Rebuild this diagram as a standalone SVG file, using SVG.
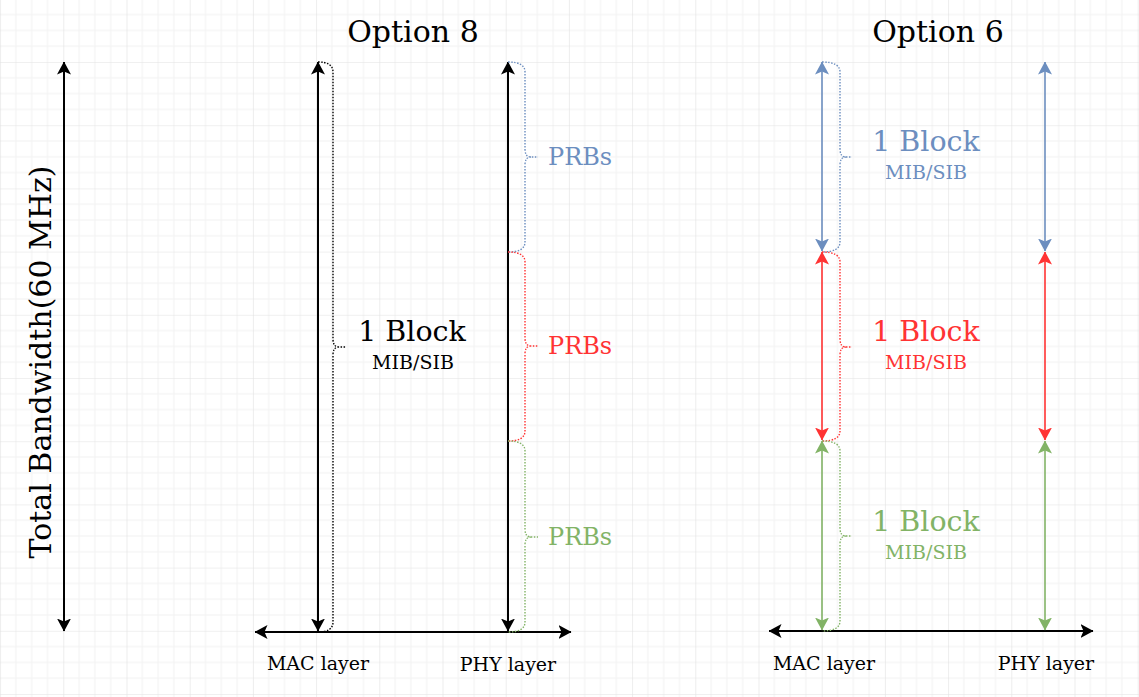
<svg xmlns="http://www.w3.org/2000/svg" width="1139" height="697" viewBox="0 0 1139 697">
<defs>
  <pattern id="grid" x="0.1" y="-1.2" width="63.2" height="63.2" patternUnits="userSpaceOnUse">
    <rect width="63.2" height="63.2" fill="#ffffff"/>
    <path d="M15.8 0V63.2M31.6 0V63.2M47.4 0V63.2M0 15.8H63.2M0 31.6H63.2M0 47.4H63.2" stroke="#f2f2f2" stroke-width="1" fill="none"/>
    <path d="M0 0V63.2M0 0H63.2" stroke="#e2e2e2" stroke-width="1.2" fill="none"/>
  </pattern>
  <marker id="ak" viewBox="0 0 13 14" refX="12.5" refY="7" markerWidth="13" markerHeight="14" markerUnits="userSpaceOnUse" orient="auto-start-reverse">
    <path d="M0 0L13 7L0 14L3 7Z" fill="#000000"/>
  </marker>
  <marker id="ab" viewBox="0 0 13 14" refX="12.5" refY="7" markerWidth="13" markerHeight="14" markerUnits="userSpaceOnUse" orient="auto-start-reverse">
    <path d="M0 0L13 7L0 14L3 7Z" fill="#6c8ebf"/>
  </marker>
  <marker id="ar" viewBox="0 0 13 14" refX="12.5" refY="7" markerWidth="13" markerHeight="14" markerUnits="userSpaceOnUse" orient="auto-start-reverse">
    <path d="M0 0L13 7L0 14L3 7Z" fill="#ff3333"/>
  </marker>
  <marker id="ag" viewBox="0 0 13 14" refX="12.5" refY="7" markerWidth="13" markerHeight="14" markerUnits="userSpaceOnUse" orient="auto-start-reverse">
    <path d="M0 0L13 7L0 14L3 7Z" fill="#82b366"/>
  </marker>
</defs>
<style>
  text { font-family: "DejaVu Serif", "Liberation Serif", serif; }
  .title { font-size: 30px; fill: #000; text-anchor: middle; }
  .big { font-size: 28.5px; text-anchor: middle; }
  .small { font-size: 19px; text-anchor: middle; }
  .prb { font-size: 24px; }
  .axis { font-size: 19px; text-anchor: middle; fill: #000; }
  .kar { stroke: #000; stroke-width: 2; fill: none; marker-start: url(#ak); marker-end: url(#ak); }
  .bar { stroke: #6c8ebf; stroke-width: 1.6; fill: none; marker-start: url(#ab); marker-end: url(#ab); }
  .rar { stroke: #ff3333; stroke-width: 1.6; fill: none; marker-start: url(#ar); marker-end: url(#ar); }
  .gar { stroke: #82b366; stroke-width: 1.6; fill: none; marker-start: url(#ag); marker-end: url(#ag); }
  .brace { fill: none; stroke-width: 1.4; stroke-dasharray: 1.5 1.5; }
  .bk { stroke: #000; }
  .bb { stroke: #6c8ebf; }
  .br { stroke: #ff3333; }
  .bg { stroke: #82b366; }
  .tb { fill: #6c8ebf; }
  .tr { fill: #ff3333; }
  .tg { fill: #82b366; }
  .tk { fill: #000; }
</style>
<rect width="1139" height="697" fill="url(#grid)"/>

<g id="titles">
  <text class="title" x="413" y="42">Option 8</text>
  <text class="title" x="938" y="42">Option 6</text>
</g>

<g id="total-bandwidth">
  <text x="0" y="0" transform="translate(51 362) rotate(-90)" style="font-size:30px;text-anchor:middle;fill:#000">Total Bandwidth(60 MHz)</text>
</g>

<g id="connectors">
  <line class="kar" x1="64" y1="62" x2="64" y2="631"/>
  <line class="kar" x1="318" y1="62" x2="318" y2="631"/>
  <line class="kar" x1="508" y1="62" x2="508" y2="631"/>
  <line class="kar" x1="255" y1="632" x2="571" y2="632"/>
  <line class="kar" x1="769" y1="631" x2="1093" y2="631"/>
  <line class="bar" x1="822" y1="62" x2="822" y2="251"/>
  <line class="rar" x1="822" y1="252" x2="822" y2="440"/>
  <line class="gar" x1="822" y1="441" x2="822" y2="630"/>
  <line class="bar" x1="1045" y1="62" x2="1045" y2="251"/>
  <line class="rar" x1="1045" y1="252" x2="1045" y2="440"/>
  <line class="gar" x1="1045" y1="441" x2="1045" y2="630"/>
</g>

<g id="brace-option8-block">
  <path class="brace bk" d="M318 62Q333 62 333 72L333 339Q333 347 339 347L346 347M339 347Q333 347 333 355L333 622Q333 632 318 632"/>
  <text class="big tk" x="412" y="341">1 Block</text>
  <text class="small tk" x="413" y="369">MIB/SIB</text>
</g>

<g id="brace-prb-blue">
  <path class="brace bb" d="M508 62Q525 62 525 72L525 149Q525 157 531 157L538 157M531 157Q525 157 525 165L525 242Q525 252 508 252"/>
  <text class="prb tb" x="548" y="165">PRBs</text>
</g>
<g id="brace-prb-red">
  <path class="brace br" d="M508 252Q525 252 525 262L525 338Q525 346 531 346L538 346M531 346Q525 346 525 354L525 431Q525 441 508 441"/>
  <text class="prb tr" x="548" y="354">PRBs</text>
</g>
<g id="brace-prb-green">
  <path class="brace bg" d="M508 441Q525 441 525 451L525 529Q525 537 531 537L538 537M531 537Q525 537 525 545L525 622Q525 632 508 632"/>
  <text class="prb tg" x="548" y="545">PRBs</text>
</g>

<g id="brace-opt6-blue">
  <path class="brace bb" d="M822 62Q840 62 840 72L840 149Q840 157 846 157L852 157M846 157Q840 157 840 165L840 242Q840 252 822 252"/>
  <text class="big tb" x="926" y="151">1 Block</text>
  <text class="small tb" x="926" y="179">MIB/SIB</text>
</g>
<g id="brace-opt6-red">
  <path class="brace br" d="M822 252Q840 252 840 262L840 339Q840 347 846 347L852 347M846 347Q840 347 840 355L840 431Q840 441 822 441"/>
  <text class="big tr" x="926" y="341">1 Block</text>
  <text class="small tr" x="926" y="369">MIB/SIB</text>
</g>
<g id="brace-opt6-green">
  <path class="brace bg" d="M822 441Q840 441 840 451L840 528Q840 536 846 536L852 536M846 536Q840 536 840 544L840 621Q840 631 822 631"/>
  <text class="big tg" x="926" y="531">1 Block</text>
  <text class="small tg" x="926" y="559">MIB/SIB</text>
</g>

<g id="axis-labels">
  <text class="axis" x="318" y="670">MAC layer</text>
  <text class="axis" x="508" y="671">PHY layer</text>
  <text class="axis" x="824" y="670">MAC layer</text>
  <text class="axis" x="1046" y="670">PHY layer</text>
</g>
</svg>
